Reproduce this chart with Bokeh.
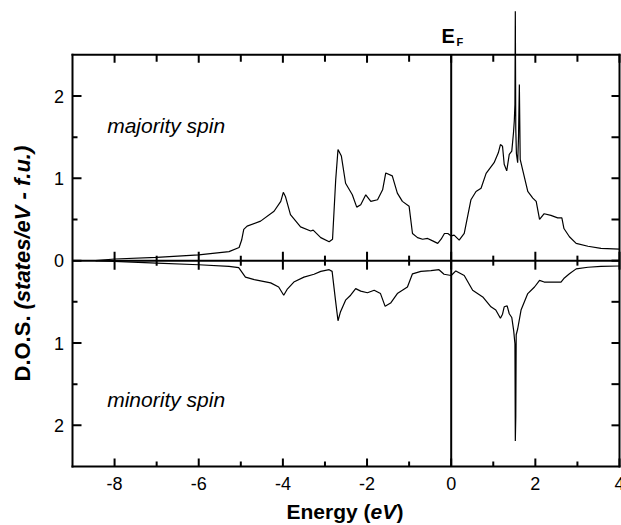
import math
from bokeh.plotting import figure
from bokeh.models import Label, Range1d
from bokeh.core.properties import value
from bokeh.embed import file_html
from bokeh.resources import INLINE

# ---------------- data ----------------
energy_major = [-8.45, -8.0, -7.0, -6.0, -5.28, -5.04, -4.98, -4.93, -4.85, -4.53,
                -4.21, -4.05, -3.99, -3.94, -3.82, -3.58, -3.34, -3.28, -3.10, -2.90,
                -2.82, -2.745, -2.69, -2.61, -2.51, -2.35, -2.245, -2.15, -2.03, -1.91,
                -1.75, -1.63, -1.555, -1.40, -1.28, -1.16, -1.0, -0.92, -0.80, -0.68,
                -0.56, -0.44, -0.32, -0.24, -0.16, -0.08, 0.0, 0.07, 0.19, 0.31,
                0.47, 0.59, 0.71, 0.83, 1.02, 1.12, 1.17, 1.22, 1.26, 1.32,
                1.38, 1.44, 1.48, 1.50, 1.515, 1.524, 1.535, 1.55, 1.58, 1.60,
                1.62, 1.64, 1.70, 1.82, 1.94, 2.02, 2.10, 2.21, 2.37, 2.53,
                2.63, 2.68, 2.81, 2.97, 3.25, 3.56, 4.0]
dos_major = [0.0, 0.02, 0.04, 0.07, 0.11, 0.16, 0.25, 0.38, 0.42, 0.48,
             0.60, 0.72, 0.83, 0.78, 0.56, 0.41, 0.36, 0.37, 0.28, 0.23,
             0.26, 0.98, 1.35, 1.27, 0.94, 0.80, 0.65, 0.68, 0.80, 0.72,
             0.74, 0.86, 1.065, 1.03, 0.82, 0.72, 0.66, 0.33, 0.28, 0.26,
             0.27, 0.24, 0.21, 0.26, 0.33, 0.33, 0.30, 0.31, 0.25, 0.33,
             0.74, 0.84, 0.88, 1.06, 1.19, 1.31, 1.41, 1.39, 1.17, 1.09,
             1.29, 1.33, 1.55, 1.70, 1.90, 3.03, 1.60, 1.30, 1.19, 1.50,
             2.14, 1.23, 1.10, 0.84, 0.76, 0.72, 0.50, 0.57, 0.55, 0.52,
             0.52, 0.39, 0.29, 0.21, 0.175, 0.15, 0.14]

energy_minor = [-8.45, -7.0, -6.0, -5.28, -5.05, -4.89, -4.68, -4.29, -4.10, -3.98,
                -3.90, -3.74, -3.50, -3.26, -3.10, -2.90, -2.83, -2.75, -2.69, -2.63,
                -2.51, -2.39, -2.27, -2.15, -1.99, -1.83, -1.68, -1.57, -1.44, -1.28,
                -1.04, -0.92, -0.72, -0.48, -0.29, -0.17, 0.0, 0.11, 0.31, 0.51,
                0.75, 0.945, 1.06, 1.17, 1.22, 1.26, 1.33, 1.38, 1.44, 1.485,
                1.515, 1.524, 1.535, 1.545, 1.58, 1.66, 1.82, 1.98, 2.10, 2.21,
                2.45, 2.61, 2.69, 2.81, 2.97, 3.25, 3.56, 4.0]
dos_minor = [0.0, 0.03, 0.05, 0.07, 0.085, 0.20, 0.23, 0.27, 0.32, 0.42,
             0.35, 0.26, 0.20, 0.165, 0.13, 0.11, 0.13, 0.48, 0.73, 0.62,
             0.48, 0.42, 0.34, 0.37, 0.39, 0.36, 0.40, 0.555, 0.515, 0.40,
             0.32, 0.16, 0.13, 0.12, 0.11, 0.165, 0.18, 0.125, 0.18, 0.36,
             0.44, 0.56, 0.60, 0.70, 0.65, 0.56, 0.55, 0.645, 0.69, 0.85,
             1.01, 2.19, 1.90, 0.90, 0.83, 0.60, 0.40, 0.32, 0.24, 0.26,
             0.26, 0.26, 0.21, 0.16, 0.10, 0.08, 0.07, 0.065]

x_major_ticks = [-8, -6, -4, -2, 0, 2, 4]
x_minor_ticks = [-7, -5, -3, -1, 1, 3]
x_tick_labels = ["-8", "-6", "-4", "-2", "0", "2", "4"]
y_major_ticks = [-2, -1, 0, 1, 2]
y_minor_ticks = [-1.5, -0.5, 0.5, 1.5]
y_tick_labels = ["2", "1", "0", "1", "2"]

X_MIN, X_MAX = -9, 4
Y_MIN, Y_MAX = -2.5, 2.5

# ---------------- layout: the plot frame fills the canvas ----------------
FONT = "Liberation Sans"
W, H = 621, 525
PX_XMIN, PX_XMAX = 72.0, 619.0      # pixel of x=-9 and x=4
PX_YTOP, PX_YBOT = 54.3, 466.0      # pixel of y=2.5 and y=-2.5
kx = (PX_XMAX - PX_XMIN) / (X_MAX - X_MIN)
ky = (PX_YBOT - PX_YTOP) / (Y_MAX - Y_MIN)
x_lo = X_MIN - PX_XMIN / kx
x_hi = x_lo + W / kx
y_hi = Y_MAX + PX_YTOP / ky
y_lo = y_hi - H / ky
TEXT_SHIFT = 6.0   # renderer puts the alphabetic baseline this many px lower


def px_x(px):
    return x_lo + px / kx


def px_y(py):
    return y_hi - py / ky


def base_y(py):
    return px_y(py - TEXT_SHIFT)


p = figure(width=W, height=H, x_range=Range1d(x_lo, x_hi), y_range=Range1d(y_lo, y_hi),
           output_backend="svg", toolbar_location=None,
           x_axis_location=None, y_axis_location=None,
           min_border=0, min_border_left=0, min_border_right=0,
           min_border_top=0, min_border_bottom=0)
p.outline_line_color = None
p.xgrid.visible = False
p.ygrid.visible = False
p.background_fill_color = "white"
p.border_fill_color = "white"

# frame box
p.segment(x0=[X_MIN, X_MAX, X_MIN, X_MIN], y0=[Y_MIN, Y_MIN, Y_MIN, Y_MAX],
          x1=[X_MIN, X_MAX, X_MAX, X_MAX], y1=[Y_MAX, Y_MAX, Y_MIN, Y_MAX],
          line_color="black", line_width=2, line_cap="square")
# zero line and Fermi level
p.segment(x0=[X_MIN], y0=[0], x1=[X_MAX], y1=[0], line_color="black", line_width=2)
p.segment(x0=[0], y0=[Y_MIN], x1=[0], y1=[Y_MAX], line_color="black", line_width=2)

tx = x_major_ticks + x_minor_ticks
n_maj_x, n_min_x = len(x_major_ticks), len(x_minor_ticks)
# bottom ticks (inward)
blen = [8] * n_maj_x + [5] * n_min_x
p.segment(x0=tx, y0=[Y_MIN] * len(tx), x1=tx, y1=[Y_MIN + l / ky for l in blen],
          line_color="black", line_width=2)
# top ticks (inward)
tlen = [8] * n_maj_x + [7] * n_min_x
p.segment(x0=tx, y0=[Y_MAX] * len(tx), x1=tx, y1=[Y_MAX - l / ky for l in tlen],
          line_color="black", line_width=2)
# ticks crossing the zero line
zlen = [9] * n_maj_x + [5] * n_min_x
p.segment(x0=tx, y0=[-l / ky for l in zlen], x1=tx, y1=[l / ky for l in zlen],
          line_color="black", line_width=2)

ty = y_major_ticks + y_minor_ticks
# left ticks (inward)
llen = [9] * len(y_major_ticks) + [5] * len(y_minor_ticks)
p.segment(x0=[X_MIN] * len(ty), y0=ty, x1=[X_MIN + l / kx for l in llen], y1=ty,
          line_color="black", line_width=2)
# right ticks (inward)
p.segment(x0=[X_MAX] * len(ty), y0=ty, x1=[X_MAX - 8 / kx] * len(ty), y1=ty,
          line_color="black", line_width=2)

# tick labels
TICK_SIZE = "18px"
p.text(x=x_major_ticks, y=[base_y(488.5)] * n_maj_x, text=x_tick_labels,
       text_font=value(FONT), text_font_size=TICK_SIZE, text_color="black",
       text_align="center", text_baseline="alphabetic")
p.text(x=[px_x(63.5)] * len(y_major_ticks),
       y=[t - (6.3 - TEXT_SHIFT) / ky for t in y_major_ticks],
       text=y_tick_labels, text_font=value(FONT), text_font_size=TICK_SIZE,
       text_color="black", text_align="right", text_baseline="alphabetic")

# curves
p.line(energy_major, dos_major, line_color="black", line_width=1.2)
p.line(energy_minor, [-v for v in dos_minor], line_color="black", line_width=1.2)


def lab(x, y, text, size, style="normal", angle=0.0):
    p.add_layout(Label(x=x, y=y, text=text, text_font=FONT, text_font_size=size,
                       text_font_style=style, text_color="black", text_align="left",
                       text_baseline="alphabetic", angle=angle))


lab(px_x(106.7), base_y(131), "majority spin", "21px", "italic")
lab(px_x(106.7), base_y(405), "minority spin", "21px", "italic")
lab(px_x(441), base_y(41.7), "E", "20px", "bold")
lab(px_x(456), base_y(47.3), "F", "11px", "bold")

# x axis title: "Energy (eV)" with italic eV
lab(px_x(286), base_y(517), "Energy (", "21px", "bold")
lab(px_x(370), base_y(517), "eV", "21px", "bold italic")
lab(px_x(396), base_y(517), ")", "21px", "bold")

# y axis title (rotated; baseline lies on the right side of the glyphs)
lab(px_x(27.5 - TEXT_SHIFT), px_y(381), "D.O.S.", "22px", "bold", math.pi / 2)
lab(px_x(27.5 - TEXT_SHIFT), px_y(309), "(states/eV - f.u.)", "22px", "bold italic", math.pi / 2)

open("out.html", "w").write(file_html(p, INLINE))
